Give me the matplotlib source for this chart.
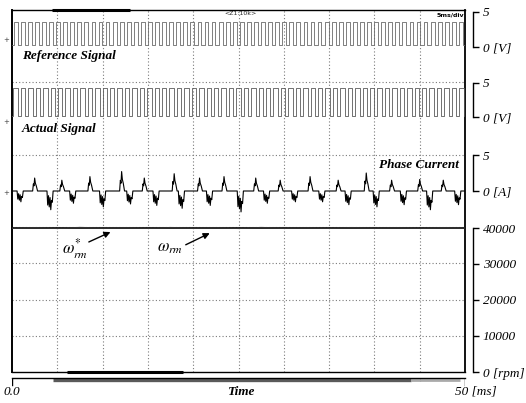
import matplotlib
matplotlib.use("Agg")
import matplotlib.pyplot as plt
import numpy as np

# ---------------- data ----------------
time_span_ms = [0.0, 50.0]

ref_rise_ms = [0.20, 0.98, 1.76, 2.54, 3.32, 4.10, 4.88, 5.66, 6.44, 7.22,
               8.00, 8.78, 9.56, 10.34, 11.12, 11.90, 12.68, 13.46, 14.24, 15.02,
               15.80, 16.58, 17.36, 18.14, 18.92, 19.70, 20.48, 21.26, 22.04, 22.82,
               23.60, 24.38, 25.16, 25.94, 26.72, 27.50, 28.28, 29.06, 29.84, 30.62,
               31.40, 32.18, 32.96, 33.74, 34.52, 35.30, 36.08, 36.86, 37.64, 38.42,
               39.20, 39.98, 40.76, 41.54, 42.32, 43.10, 43.88, 44.66, 45.44, 46.22,
               47.00, 47.78, 48.56, 49.34]
ref_width_ms = 0.42
ref_levels_v = [0.3, 3.5]

act_rise_ms = [0.15, 0.97, 1.79, 2.61, 3.43, 4.25, 5.07, 5.89, 6.71, 7.53,
               8.35, 9.17, 9.99, 10.81, 11.63, 12.45, 13.27, 14.09, 14.91, 15.73,
               16.55, 17.37, 18.19, 19.01, 19.83, 20.65, 21.47, 22.29, 23.11, 23.93,
               24.75, 25.57, 26.39, 27.21, 28.03, 28.85, 29.67, 30.49, 31.31, 32.13,
               32.95, 33.77, 34.59, 35.41, 36.23, 37.05, 37.87, 38.69, 39.51, 40.33,
               41.15, 41.97, 42.79, 43.61, 44.43, 45.25, 46.07, 46.89, 47.71, 48.53,
               49.35]
act_width_ms = 0.50
act_levels_v = [0.1, 4.2]

cur_pos_ms = [2.5, 5.5, 8.6, 12.1, 14.6, 17.9, 20.7, 23.4, 26.9, 29.6,
              32.9, 36.0, 39.1, 41.9, 45.0, 47.6]
cur_pos_amp = [1.8, 1.5, 2.0, 2.7, 1.8, 2.4, 1.8, 2.0, 1.8, 1.5,
               2.0, 1.5, 2.5, 1.5, 1.6, 1.5]
cur_neg_ms = [0.9, 4.2, 6.7, 10.0, 13.0, 15.9, 18.7, 21.8, 25.2, 28.1,
              31.2, 34.2, 37.1, 40.2, 43.2, 46.1, 49.2]
cur_neg_amp = [1.5, 2.6, 1.7, 2.2, 1.8, 2.0, 2.4, 2.0, 2.9, 1.7,
               1.5, 1.5, 1.9, 2.2, 1.9, 2.6, 1.9]
pos_shape_dt = [-0.22, -0.14, -0.07, 0.00, 0.08, 0.18, 0.32]
pos_shape_rel = [0.0, 0.55, 0.40, 1.00, 0.60, 0.40, 0.0]
neg_shape_dt = [-0.34, -0.26, -0.17, -0.09, 0.00, 0.08, 0.16, 0.25, 0.34]
neg_shape_rel = [0.0, 0.75, 0.25, 0.85, 0.35, 1.00, 0.50, 0.60, 0.0]

speed_t_ms = [0.0, 2.5, 5.0, 7.5, 10.0, 12.5, 15.0, 17.5, 20.0, 22.5, 25.0,
              27.5, 30.0, 32.5, 35.0, 37.5, 40.0, 42.5, 45.0, 47.5, 50.0]
speed_ref_rpm = [40000] * 21
speed_act_rpm = [39950, 40080, 39900, 40120, 39980, 40060, 39920, 40100, 39960, 40050, 39900,
                 40110, 39970, 40040, 39930, 40090, 39980, 40060, 39940, 40070, 40000]

volt_ticks = [0, 5]
volt_labels = ["0 [V]", "5"]
amp_ticks = [0, 5]
amp_labels = ["0 [A]", "5"]
rpm_ticks = [0, 10000, 20000, 30000, 40000]
rpm_labels = ["0 [rpm]", "10000", "20000", "30000", "40000"]

# ---------------- layout (pixels) ----------------
W, H = 526, 403
FL, FR, FT, FB = 12, 465, 10, 372
BR_X = 473  # right bracket x

plt.rcParams["mathtext.fontset"] = "stix"
SERIF = "Liberation Serif"

fig = plt.figure(figsize=(W / 100, H / 100), dpi=100)
fig.patch.set_facecolor("white")
rect = [FL / W, 1 - FB / H, (FR - FL) / W, (FB - FT) / H]

# main frame with grid (10 x 10 divisions)
ax = fig.add_axes(rect)
ax.set_xlim(*time_span_ms)
ax.set_ylim(0, 10)
ax.set_xticks(np.arange(5, 50, 5))
ax.set_yticks([1, 2, 3, 4, 6, 8])
ax.grid(True, linestyle=(0, (1, 2)), color="#7a7a7a", linewidth=0.8)
ax.tick_params(length=0, labelbottom=False, labelleft=False)
for s in ax.spines.values():
    s.set_color("black")
    s.set_linewidth(1.0)
ax.spines["left"].set_linewidth(1.4)
ax.spines["right"].set_linewidth(1.3)
ax.plot([4.4, 13.0], [10, 10], color="black", lw=2.2, clip_on=False, solid_capstyle="butt")
ax.plot([6.1, 18.9], [0, 0], color="black", lw=2.2, clip_on=False, solid_capstyle="butt")


def ylim_for(v0, py0, v1, py1):
    f0 = (FB - py0) / (FB - FT)
    f1 = (FB - py1) / (FB - FT)
    s = (v1 - v0) / (f1 - f0)
    lo = v0 - f0 * s
    return lo, lo + s


def overlay(lims, ticks, labels, lo_v, hi_v):
    a = fig.add_axes(rect, sharex=ax)
    a.patch.set_visible(False)
    a.set_ylim(*lims)
    for k in ("left", "top", "bottom"):
        a.spines[k].set_visible(False)
    a.spines["right"].set_position(("axes", (BR_X - FL) / (FR - FL)))
    a.spines["right"].set_bounds(lo_v, hi_v)
    a.spines["right"].set_linewidth(1.0)
    a.yaxis.set_ticks_position("right")
    a.set_yticks(ticks)
    a.set_yticklabels(labels, family=SERIF, style="italic", fontsize=9.5)
    a.tick_params(axis="y", direction="out", length=4, width=1.0, pad=3)
    a.tick_params(axis="x", bottom=False, labelbottom=False)
    return a


def square_wave(rises, width, levels):
    lo, hi = levels
    t, v = [time_span_ms[0]], [lo]
    for r in rises:
        t += [r, r, r + width, r + width]
        v += [lo, hi, hi, lo]
    t.append(time_span_ms[1])
    v.append(lo)
    return np.array(t), np.array(v)


# Reference signal
ax_ref = overlay(ylim_for(0, 47, 5, 12), volt_ticks, volt_labels, 0, 5)
t, v = square_wave(ref_rise_ms, ref_width_ms, ref_levels_v)
ax_ref.plot(t, v, color="#6a6a6a", lw=0.6)

# Actual signal
ax_act = overlay(ylim_for(0, 117, 5, 83), volt_ticks, volt_labels, 0, 5)
t, v = square_wave(act_rise_ms, act_width_ms, act_levels_v)
ax_act.plot(t, v, color="#5a5a5a", lw=0.6)

# Phase current
ax_cur = overlay(ylim_for(0, 191, 5, 155), amp_ticks, amp_labels, 0, 5)
events = [(c, a, pos_shape_dt, pos_shape_rel) for c, a in zip(cur_pos_ms, cur_pos_amp)]
events += [(c, -a, neg_shape_dt, neg_shape_rel) for c, a in zip(cur_neg_ms, cur_neg_amp)]
events.sort(key=lambda e: e[0])
ct, cv = [time_span_ms[0]], [0.0]
for c, a, dts, rel in events:
    ct += [c + d for d in dts]
    cv += [a * r for r in rel]
ct.append(time_span_ms[1])
cv.append(0.0)
ax_cur.plot(ct, cv, color="black", lw=0.8)

# Speed
ax_spd = overlay(ylim_for(0, 372, 40000, 228), rpm_ticks, rpm_labels, 0, 40000)
ax_spd.plot(speed_t_ms, speed_ref_rpm, color="black", lw=1.2)
ax_spd.plot(speed_t_ms, speed_act_rpm, color="#333333", lw=1.0)
ax_spd.annotate("", xy=(11.15, 39200), xytext=(8.2, 35800),
                arrowprops=dict(arrowstyle="-|>", color="black", lw=1.0, mutation_scale=9))
ax_spd.annotate("", xy=(22.1, 38900), xytext=(18.9, 35000),
                arrowprops=dict(arrowstyle="-|>", color="black", lw=1.0, mutation_scale=9))
ax_spd.text(5.5, 34300, r"$\omega^{*}_{rm}$", fontsize=12, va="center", ha="left")
ax_spd.text(16.0, 34700, r"$\omega_{rm}$", fontsize=12, va="center", ha="left")

# trace labels
lab = dict(family=SERIF, style="italic", weight="bold", fontsize=9.5)
ax.text(1.1, 8.72, "Reference Signal", ha="left", va="center", **lab)
ax.text(1.1, 6.72, "Actual Signal", ha="left", va="center", **lab)
ax.text(49.3, 5.72, "Phase Current", ha="right", va="center", **lab)

# scope annotations
ax.text(25.2, 9.9, "<Z1:10k>", ha="center", va="center", fontsize=4.5, color="#222222")
ax.text(49.9, 9.87, "5ms/div", ha="right", va="center", fontsize=4.5, weight="bold")
for py in (40, 122, 193):
    fig.text(6 / W, 1 - py / H, "+", fontsize=5, color="#444444", ha="center", va="center")

# bottom time strip
ax_b = fig.add_axes([FL / W, 1 - 388 / H, (FR - FL) / W, 10 / H], sharex=ax)
ax_b.patch.set_visible(False)
ax_b.set_ylim(0, 1)
for k in ("left", "right", "bottom"):
    ax_b.spines[k].set_visible(False)
ax_b.spines["top"].set_linewidth(1.0)
ax_b.xaxis.set_ticks_position("top")
ax_b.set_xticks(np.arange(5, 50, 5))
ax_b.tick_params(axis="x", direction="in", length=2.5, width=0.8, color="#555555",
                 labeltop=False, labelbottom=False)
ax_b.set_yticks([])
ax_b.axvline(0, ymin=0.3, ymax=1.0, color="black", lw=1.0)
ax_b.axvline(50, ymin=0.3, ymax=1.0, color="black", lw=1.0)
ax_b.plot([4.5, 44.0], [0.85, 0.85], color="#5a5a5a", lw=2.4, solid_capstyle="butt")
ax_b.plot([44.0, 49.5], [0.85, 0.85], color="#aaaaaa", lw=2.0, solid_capstyle="butt")
bt = ax_b.get_xaxis_transform()
ax_b.text(0.0, -0.4, "0.0", transform=bt, ha="center", va="center",
          family=SERIF, style="italic", fontsize=9.5)
ax_b.text(25.2, -0.4, "Time", transform=bt, ha="center", va="center", **lab)
ax_b.text(48.9, -0.4, "50 [ms]", transform=bt, ha="left", va="center",
          family=SERIF, style="italic", fontsize=9.5)

fig.savefig("out.png", dpi=100, facecolor="white")
